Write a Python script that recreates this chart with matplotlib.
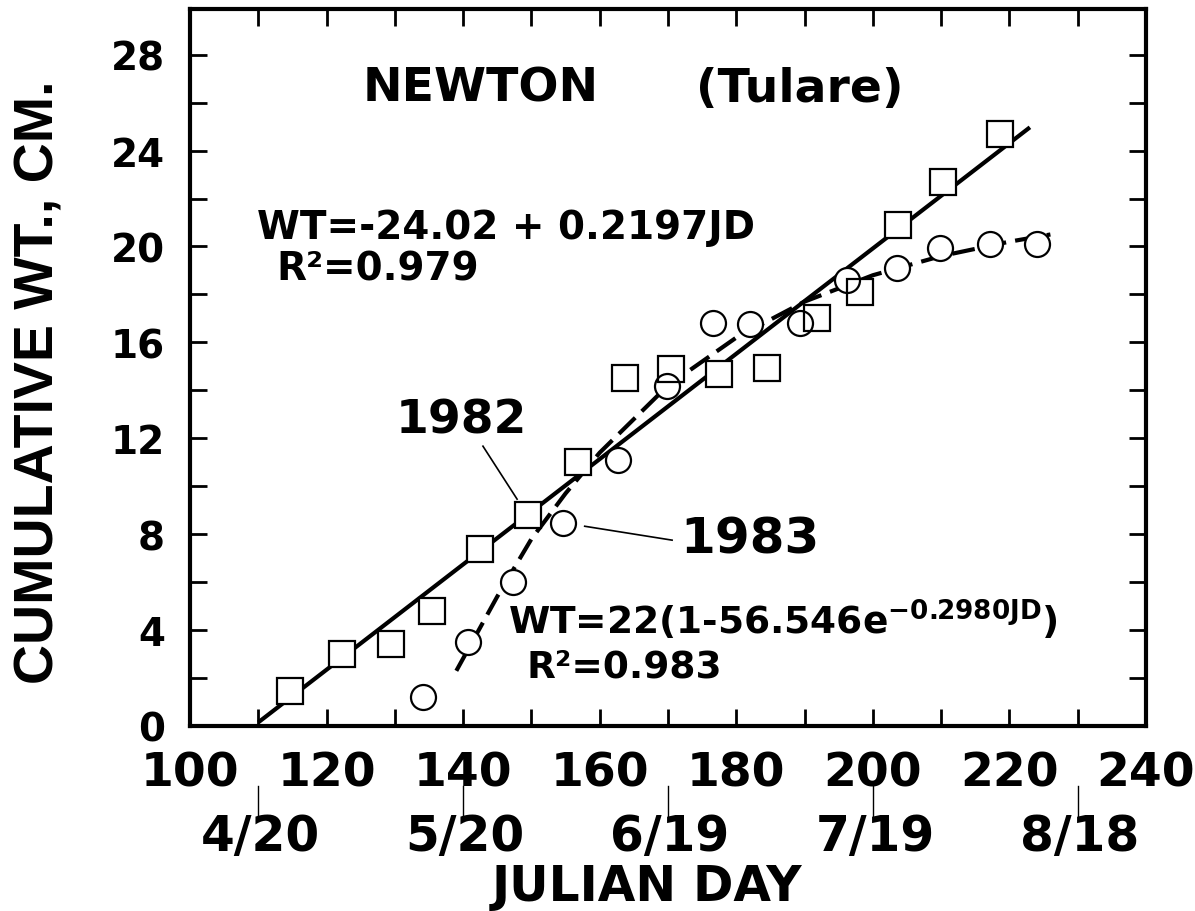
import matplotlib
matplotlib.use('Agg')
import matplotlib.pyplot as plt
from matplotlib.ticker import MultipleLocator

# 1982 observations (squares)
jd_1982 = [114.6, 122.3, 129.4, 135.4, 142.5, 149.5, 156.8, 163.7, 170.4, 177.5,
           184.5, 191.8, 198.1, 203.7, 210.2, 218.6]
wt_1982 = [1.45, 3.0, 3.4, 4.8, 7.4, 8.8, 11.0, 14.5, 14.9, 14.7,
           14.95, 17.0, 18.1, 20.9, 22.7, 24.7]

# 1983 observations (circles)
jd_1983 = [134.1, 140.7, 147.3, 154.6, 162.7, 169.9, 176.6, 182.0, 189.3, 196.2,
           203.5, 209.8, 217.1, 224.0]
wt_1983 = [1.2, 3.5, 6.0, 8.45, 11.1, 14.2, 16.8, 16.75, 16.8, 18.6,
           19.1, 19.95, 20.1, 20.1]

# fitted lines
fit82_x = [110, 223]
fit82_y = [0.15, 24.97]
fit83_x = [139, 145, 150, 155, 160, 170, 180, 190, 200, 210, 220, 226]
fit83_y = [2.3, 5.4, 7.8, 9.7, 11.4, 14.2, 16.2, 17.7, 18.8, 19.6, 20.2, 20.5]

# calendar dates under the julian day axis
date_jd = [110, 140, 170, 200, 230]
date_labels = ['4/20', '5/20', '6/19', '7/19', '8/18']

BOLD = 'DejaVu Sans'

fig = plt.figure(figsize=(11.95, 9.12), dpi=100)
ax = fig.add_axes([0.159, 0.2029, 0.8, 0.786])

ax.plot(fit82_x, fit82_y, color='black', lw=3, solid_capstyle='butt', zorder=2)
ax.plot(fit83_x, fit83_y, color='black', lw=3, ls=(0, (5.5, 2.2)), zorder=2)

# white fill first so the lines stop at the markers, then outlines on top
for x, y, m, s in [(jd_1982, wt_1982, 's', 19), (jd_1983, wt_1983, 'o', 18)]:
    ax.plot(x, y, ls='none', marker=m, ms=s, mfc='white', mec='white', mew=0, zorder=3)
for x, y, m, s in [(jd_1982, wt_1982, 's', 19), (jd_1983, wt_1983, 'o', 18)]:
    ax.plot(x, y, ls='none', marker=m, ms=s, mfc='none', mec='black', mew=1.6, zorder=4)

ax.set_xlim(100, 240)
ax.set_ylim(0, 29.9)
ax.xaxis.set_major_locator(MultipleLocator(20))
ax.xaxis.set_minor_locator(MultipleLocator(10))
ax.yaxis.set_major_locator(MultipleLocator(4))
ax.yaxis.set_minor_locator(MultipleLocator(2))
ax.tick_params(which='both', direction='in', top=True, right=True, length=12, width=2)
ax.tick_params(axis='x', pad=18)
ax.tick_params(axis='y', pad=18)
for lab in ax.get_xticklabels():
    lab.set_fontsize(34)
    lab.set_fontweight('bold')
    lab.set_family(BOLD)
for lab in ax.get_yticklabels():
    lab.set_fontsize(28)
    lab.set_fontweight('bold')
    lab.set_family(BOLD)
for sp in ax.spines.values():
    sp.set_linewidth(3)

# titles and annotations
ax.text(142.5, 26.6, 'NEWTON', fontsize=34, fontweight='bold', family=BOLD, ha='center', va='center')
ax.text(189.3, 26.6, '(Tulare)', fontsize=34, fontweight='bold', family=BOLD, ha='center', va='center')
ax.text(109.8, 20.8, 'WT=-24.02 + 0.2197JD', fontsize=28, fontweight='bold', family=BOLD,
        ha='left', va='center')
ax.text(112.7, 19.1, 'R²=0.979', fontsize=28, fontweight='bold', family=BOLD, ha='left', va='center')

ax.text(139.7, 12.75, '1982', fontsize=34, fontweight='bold', family=BOLD, ha='center', va='center')
ax.plot([142.9, 147.9], [11.67, 9.46], color='black', lw=1.2, zorder=1)
ax.text(182.0, 7.8, '1983', fontsize=36, fontweight='bold', family=BOLD, ha='center', va='center')
ax.plot([157.8, 170.6], [8.33, 7.75], color='black', lw=1.2, zorder=1)

plt.rcParams['mathtext.fontset'] = 'dejavusans'
ax.text(146.6, 4.42, r'WT=22(1-56.546e$^{\mathbf{-0.2980JD}}$)', fontsize=27, fontweight='bold',
        family=BOLD, ha='left', va='center')
ax.text(149.3, 2.46, 'R²=0.983', fontsize=27, fontweight='bold', family=BOLD, ha='left', va='center')

# date markers below the axis
for jd, lab in zip(date_jd, date_labels):
    ax.plot([jd, jd], [-2.5, -3.75], color='black', lw=1, clip_on=False)
    ax.text(jd + 0.3, -4.6, lab, fontsize=35, fontweight='bold', family=BOLD,
            ha='center', va='center', clip_on=False)

fig.text(647 / 1195, 1 - 887 / 912, 'JULIAN DAY', fontsize=35, fontweight='bold', family=BOLD,
         ha='center', va='center')
fig.text(40 / 1195, 1 - 382 / 912, 'CUMULATIVE WT., CM.', fontsize=40, fontweight='bold',
         family='Liberation Sans', rotation=90, ha='center', va='center')

fig.savefig('out.png', dpi=100)
